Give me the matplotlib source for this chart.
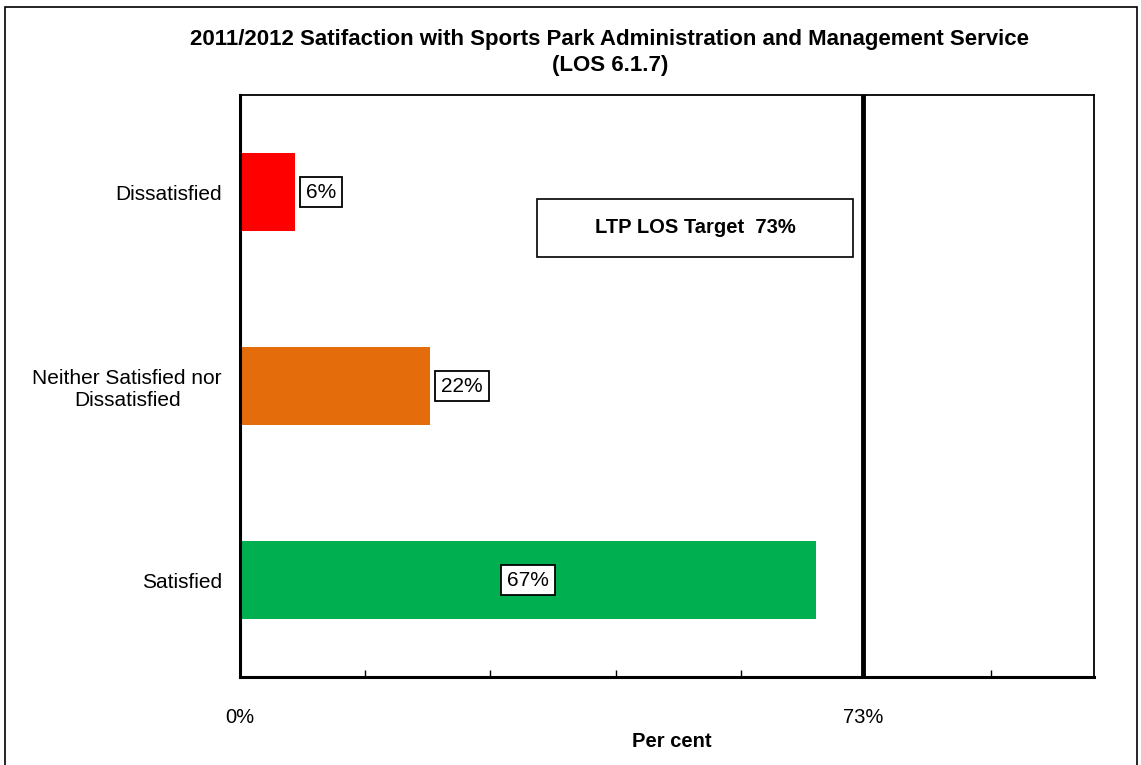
import matplotlib.pyplot as plt
from matplotlib.patches import Rectangle

plt.rcParams['font.family'] = ['Liberation Sans', 'DejaVu Sans']

categories = ['Dissatisfied', 'Neither Satisfied nor\nDissatisfied', 'Satisfied']
values = [6.4, 22.2, 67.4]
colors = ['#FF0000', '#E46C0A', '#00B050']
target = 73
minor_ticks = [14.66, 29.32, 43.98, 58.64, 87.96]

fig = plt.figure(figsize=(11.41, 7.65), dpi=100)
ax = fig.add_axes([240 / 1141, 1 - 677 / 765, 854 / 1141, 582 / 765])

y = range(len(categories))
ax.barh(y, values, height=0.4, color=colors, zorder=2)
ax.set_ylim(2.5, -0.5)
ax.set_xlim(0, 100)

# data labels: outside for short bars, centred inside for the long one
for i, v in enumerate(values):
    box = dict(boxstyle='square,pad=0.28', fc='white', ec='black', lw=1.3)
    if v > 40:
        ax.text(v / 2, i, f'{v:.0f}%', ha='center', va='center', fontsize=15, bbox=box, zorder=3)
    else:
        ax.text(v + 1.35, i, f'{v:.0f}%', ha='left', va='center', fontsize=15, bbox=box, zorder=3)

# target line
ax.axvline(target, color='black', lw=3.5, zorder=4)
ax.add_patch(Rectangle((0.348, 0.722), 0.370, 0.0997, transform=ax.transAxes,
                       fc='white', ec='black', lw=1.2, zorder=3))
ax.text(0.533, 0.772, f'LTP LOS Target  {target}%', transform=ax.transAxes,
        ha='center', va='center', fontsize=14.5, fontweight='bold', zorder=4)

ax.set_yticks(list(y))
ax.set_yticklabels(categories, fontsize=15, multialignment='center')
ax.tick_params(axis='y', length=0, pad=13)

ax.set_xticks([0, target])
ax.set_xticklabels(['0%', f'{target}%'], fontsize=14.5)
ax.set_xticks(minor_ticks, minor=True)
ax.tick_params(axis='x', which='both', direction='in', length=5, width=1, pad=22)
ax.tick_params(axis='x', which='major', length=0)
ax.set_xlabel('Per cent', fontsize=14.5, fontweight='bold')
ax.xaxis.set_label_coords((672 - 240) / 854, -(732 - 677) / 582)

for side in ['left', 'bottom']:
    ax.spines[side].set_linewidth(2.2)
for side in ['top', 'right']:
    ax.spines[side].set_linewidth(1.3)

fig.text(610 / 1141, 1 - 40 / 765, '2011/2012 Satifaction with Sports Park Administration and Management Service',
         ha='center', va='center', fontsize=16, fontweight='bold')
fig.text(610 / 1141, 1 - 66 / 765, '(LOS 6.1.7)', ha='center', va='center', fontsize=16, fontweight='bold')

# outer chart frame
fig.patches.append(Rectangle((5 / 1141, -0.05), 1132 / 1141, 1.05 - 7 / 765,
                             transform=fig.transFigure, fill=False, ec='black', lw=1.2))

fig.savefig('out.png', dpi=100)
